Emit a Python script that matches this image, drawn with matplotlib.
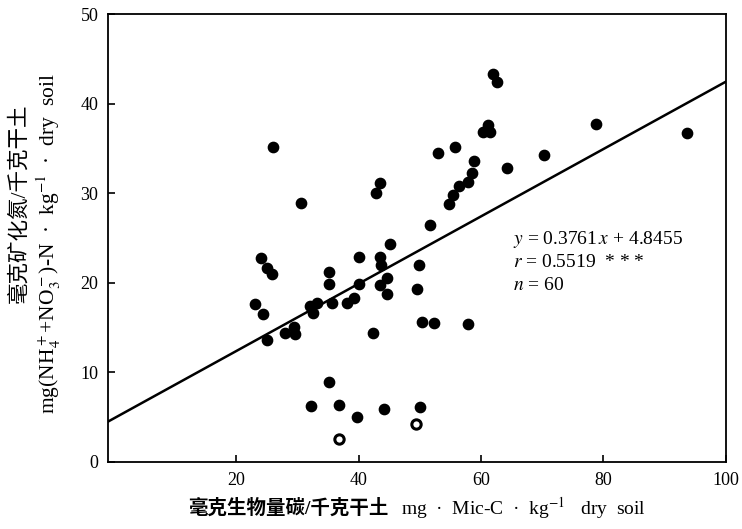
import numpy as np
import matplotlib
matplotlib.use("Agg")
import matplotlib.pyplot as plt

plt.rcParams['font.family'] = ['Liberation Serif', 'Noto Sans CJK SC', 'DejaVu Sans']
plt.rcParams['mathtext.fontset'] = 'stix'

# Microbial biomass C (x) vs mineralised N (y)
mic_c = [61.9, 62.6, 61.1, 60.3, 61.5, 53.0, 55.8, 58.8, 58.5, 57.9,
         56.4, 55.5, 54.8, 51.7, 64.3, 70.3, 78.8, 93.7, 26.1, 43.5,
         42.8, 30.6, 45.2, 40.0, 43.5, 43.7, 35.2, 24.1, 25.1, 25.9,
         35.2, 40.0, 43.5, 44.6, 44.7, 23.1, 24.4, 32.1, 33.2, 32.6,
         35.6, 38.1, 39.3, 29.4, 25.1, 28.0, 29.6, 42.3, 50.3, 52.4,
         57.9, 35.2, 32.2, 36.8, 39.8, 44.1, 50.1, 49.9, 49.6]
min_n = [43.3, 42.4, 37.6, 36.8, 36.8, 34.5, 35.2, 33.6, 32.2, 31.2,
         30.8, 29.8, 28.8, 26.5, 32.8, 34.3, 37.7, 36.7, 35.2, 31.1,
         30.0, 28.9, 24.3, 22.9, 22.9, 22.0, 21.2, 22.8, 21.7, 21.0,
         19.9, 19.9, 19.8, 20.5, 18.7, 17.6, 16.5, 17.4, 17.8, 16.6,
         17.7, 17.7, 18.3, 15.1, 13.6, 14.4, 14.3, 14.4, 15.6, 15.5,
         15.4, 8.9, 6.2, 6.4, 5.0, 5.9, 6.1, 22.0, 19.3]
# two points printed as open rings
ring_c = [49.4, 36.8]
ring_n = [4.2, 2.6]

slope = 0.3761
intercept = 4.8455

x_ticks = [20, 40, 60, 80, 100]
y_ticks = [0, 10, 20, 30, 40, 50]

fig = plt.figure(figsize=(7.42, 5.29), dpi=100)
ax = fig.add_axes([0.1456, 0.1267, 0.8328, 0.8468])

ax.scatter(mic_c, min_n, s=55, color='black', zorder=3)
ax.scatter(ring_c, ring_n, s=45, facecolor='white', edgecolor='black',
           linewidth=2.2, zorder=3)

xs = np.array([-0.9, 100])
ax.plot(xs, slope * xs + intercept, color='black', lw=1.8, zorder=2)

ax.set_xlim(-0.9, 100)
ax.set_ylim(0, 50)
ax.set_xticks(x_ticks)
ax.set_yticks(y_ticks)
ax.tick_params(direction='in', length=5, width=1.2, labelsize=13)
ax.tick_params(axis='x', pad=7)
ax.tick_params(axis='y', pad=7)
for sp in ax.spines.values():
    sp.set_linewidth(1.3)

# regression annotation
ax.text(65.3, 24.8, r"$y$ = 0.3761$\,x$ + 4.8455", fontsize=14, va='center')
ax.text(65.3, 22.3, r"$r$ = 0.5519  * * *", fontsize=14, va='center')
ax.text(65.3, 19.7, r"$n$ = 60", fontsize=14, va='center')

# x label: Chinese part and unit part kept apart so the CJK font is used
fig.text(0.523, 0.04, "毫克生物量碳/千克干土", fontsize=14, fontweight='bold',
         ha='right', va='center')
fig.text(0.54, 0.04, "mg  ·  Mic-C  ·  kg$^{-1}$   dry  soil",
         fontsize=14, ha='left', va='center')

# y label, two lines
fig.text(0.026, 0.615, "毫克矿化氮/千克干土", rotation=90, fontsize=15.5,
         ha='center', va='center')
fig.text(0.066, 0.54,
         "mg(NH$_4^+$+NO$_3^-$)-N  ·  kg$^{-1}$  ·  dry  soil",
         rotation=90, fontsize=15.5, ha='center', va='center')

fig.savefig("out.png", dpi=100)
